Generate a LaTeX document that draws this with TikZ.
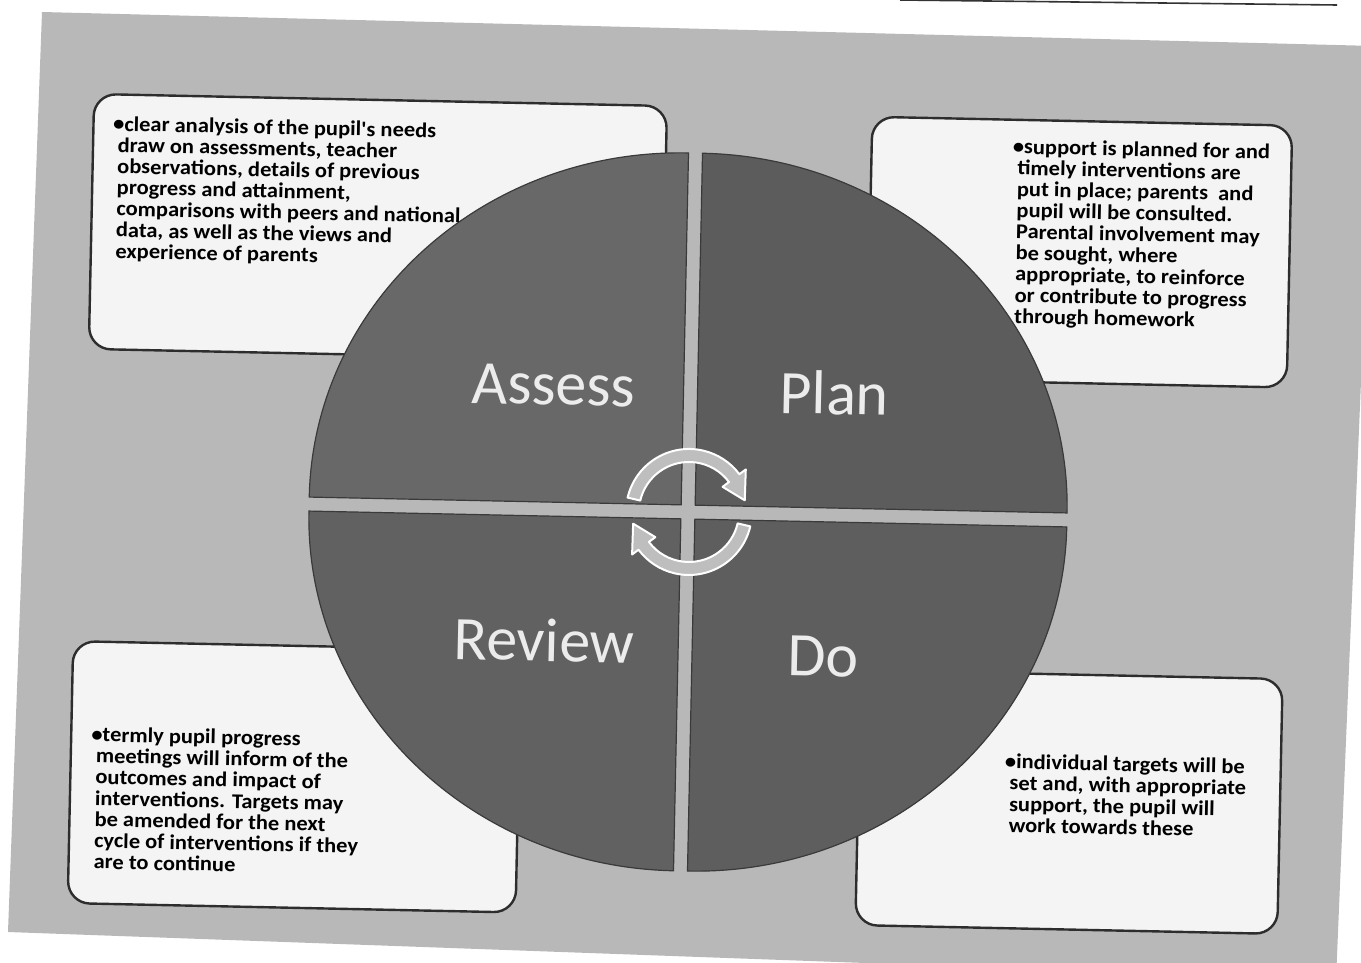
\documentclass[tikz,border=0pt]{standalone}
\usepackage{fontspec}
\setmainfont{Carlito}
\newfontfamily\notefont{Carlito}[FakeStretch=1.07]
\usetikzlibrary{calc}

\definecolor{pagegray}{RGB}{184,184,184}
\definecolor{boxwhite}{RGB}{244,244,244}
\definecolor{boxline}{RGB}{45,45,45}
\definecolor{sectorline}{RGB}{58,58,58}
\definecolor{assessfill}{RGB}{104,104,104}
\definecolor{planfill}{RGB}{92,92,92}
\definecolor{reviewfill}{RGB}{97,97,97}
\definecolor{dofill}{RGB}{94,94,94}
\definecolor{labelwhite}{RGB}{236,236,236}
\definecolor{arrowgray}{RGB}{190,190,190}

\tikzset{
  infobox/.style={draw=boxline, line width=2.4pt, fill=boxwhite, rounded corners=22pt, inner sep=0pt},
  infotext/.style={anchor=north west, inner sep=0pt, align=left, text=black,
    font=\notefont\fontsize{21}{21.2}\selectfont\bfseries},
  stagelabel/.style={text=labelwhite, inner sep=0pt, font=\fontsize{62}{62}\selectfont},
  sector/.style={draw=sectorline, line width=1.2pt},
  cyclearrow/.style={fill=arrowgray, draw=white, line width=2pt, line join=round}
}

\begin{document}
\begin{tikzpicture}[x=1pt, y=-1pt]
	\useasboundingbox (0,0) rectangle (1361,963);
	\fill[pagegray] (42,12) -- (1375,46) -- (1336,980) -- (8,932) -- cycle;
	\draw[line width=1.6pt, black!80] (900,0) -- (1337,5);
	\begin{scope}[rotate around={-1.2:(688,512)}, transform shape]
	\node[infobox, minimum width=573pt, minimum height=255pt] (assessbox) at (372,234) {};
	\node[infobox, minimum width=420pt, minimum height=262pt] (planbox) at (1074,244) {};
	\node[infobox, minimum width=448pt, minimum height=262pt] (reviewbox) at (300,785) {};
	\node[infobox, minimum width=422pt, minimum height=255pt] (dobox) at (1075,794) {};
	\filldraw[sector, fill=assessfill] (681,505) -- ++(-372,0) arc[start angle=180, end angle=270, x radius=372, y radius=352] -- cycle;
	\filldraw[sector, fill=planfill] (695,505) -- ++(0,-352) arc[start angle=270, end angle=360, x radius=372, y radius=352] -- cycle;
	\filldraw[sector, fill=dofill] (695,519) -- ++(372,0) arc[start angle=0, end angle=90, x radius=372, y radius=352] -- cycle;
	\filldraw[sector, fill=reviewfill] (681,519) -- ++(0,352) arc[start angle=90, end angle=180, x radius=372, y radius=352] -- cycle;
	\node[stagelabel] (assesslabel) at (551,388) {Assess};
	\node[stagelabel] (planlabel) at (832,390) {Plan};
	\node[stagelabel] (reviewlabel) at (547,643) {Review};
	\node[stagelabel] (dolabel) at (826,654) {Do};
	\coordinate (hub) at (689,512);
	\draw[cyclearrow] ($(hub)+(192:63)$) arc[start angle=192, end angle=322, radius=63] -- ($(hub)+(322:71)$) -- ($(hub)+(347:57)$) -- ($(hub)+(322:42)$) -- ($(hub)+(322:50)$) arc[start angle=322, end angle=192, radius=50] -- cycle;
	\draw[cyclearrow] ($(hub)+(12:63)$) arc[start angle=12, end angle=142, radius=63] -- ($(hub)+(142:71)$) -- ($(hub)+(167:57)$) -- ($(hub)+(142:42)$) -- ($(hub)+(142:50)$) arc[start angle=142, end angle=12, radius=50] -- cycle;
	\node[infotext] (assesstext) at (110,128) {\hspace*{-5pt}•clear analysis of the pupil's needs\\draw on assessments, teacher\\observations, details of previous\\progress and attainment,\\comparisons with peers and national\\data, as well as the views and\\experience of parents};
	\node[infotext] (plantext) at (1010,132) {\hspace*{-5pt}•support is planned for and\\timely interventions are\\put in place; parents~ and\\pupil will be consulted.\\Parental involvement may\\be sought, where\\appropriate, to reinforce\\or contribute to progress\\through homework};
	\node[infotext] (reviewtext) at (101,739) {\hspace*{-5pt}•termly pupil progress\\meetings will inform of the\\outcomes and impact of\\interventions. Targets may\\be amended for the next\\cycle of interventions if they\\are to continue};
	\node[infotext] (dotext) at (1015,747) {\hspace*{-5pt}•individual targets will be\\set and, with appropriate\\support, the pupil will\\work towards these};
	\end{scope}
\end{tikzpicture}
\end{document}
